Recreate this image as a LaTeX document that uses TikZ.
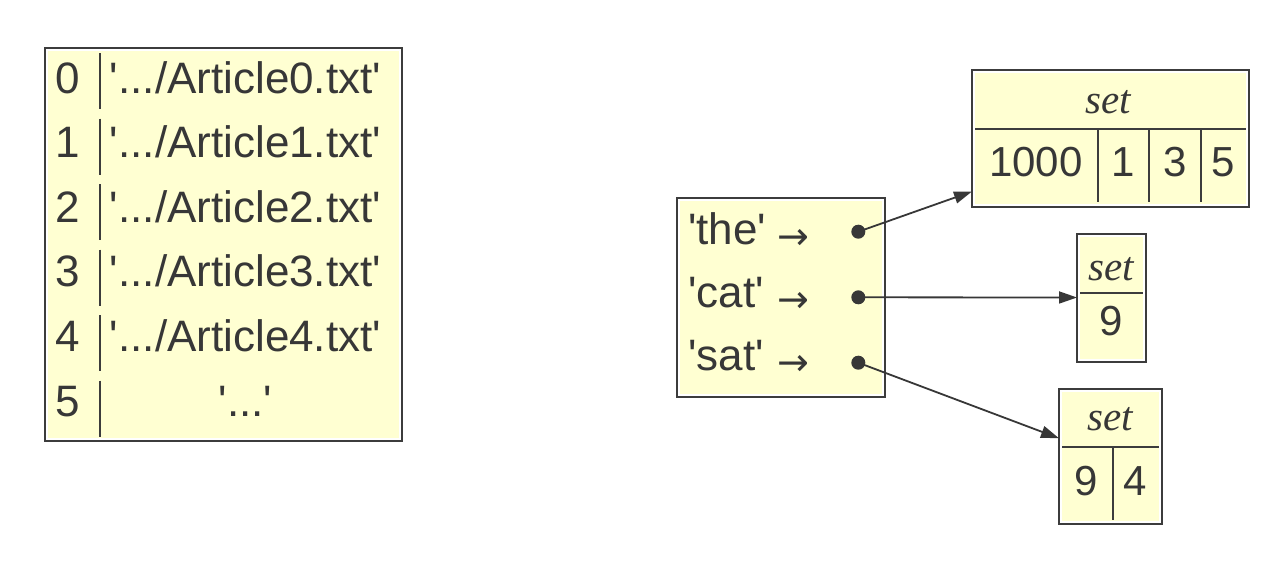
\documentclass[tikz,border=0pt]{standalone}
\usepackage{fontspec}
\setmainfont{Liberation Sans}
\newfontfamily\serifit{Liberation Serif}
\newfontfamily\arrfont{DejaVu Sans}
\usetikzlibrary{arrows.meta}
\definecolor{yel}{RGB}{255,255,210}
\definecolor{ink}{RGB}{55,55,55}
\definecolor{edge}{RGB}{60,60,60}
\newcommand\q{\textquotesingle}
\begin{document}
\begin{tikzpicture}[x=1pt,y=-1pt,
  box/.style={draw=edge, line width=2pt, fill=white, inner sep=0pt, outer sep=0pt, anchor=north west,
    path picture={\fill[yel] ([shift={(3pt,-3pt)}]path picture bounding box.north west) rectangle ([shift={(-3pt,3pt)}]path picture bounding box.south east);}},
  txt/.style={font=\fontsize{44}{44}\selectfont, text=ink, inner sep=0pt, anchor=base},
  num/.style={font=\fontsize{42}{42}\selectfont, text=ink, inner sep=0pt, anchor=base},
  settxt/.style={font=\serifit\itshape\fontsize{41}{41}\selectfont, text=ink, inner sep=0pt, anchor=base},
  arr/.style={font=\arrfont\fontsize{38}{38}\selectfont, text=ink, inner sep=0pt, anchor=base west},
  rule/.style={draw=edge, line width=2pt},
  dot/.style={circle, fill=ink, inner sep=0pt, minimum size=14pt},
  conn/.style={draw=ink, line width=1.8pt, -{Triangle[length=18pt,width=12pt]}},
]
\useasboundingbox (0,0) rectangle (1276,562);

% left table
\node[box, minimum width=357pt, minimum height=393pt] (tbl) at (45,48) {};
\foreach \i in {0,...,4}{
  \pgfmathsetmacro\by{93+64.6*\i}
  \pgfmathsetmacro\ty{48+65.5*\i}
  \node[txt] (n\i) at (68,\by) {\i};
  \node[txt] (a\i) at (245.5,\by) {\q.../Article\i.txt\q};
  \draw[rule] (100.3,\ty+5) -- (100.3,\ty+61);
}
\node[txt] (n5) at (68,416) {5};
\node[txt] (a5) at (245.5,416) {\q...\q};
\draw[rule] (100.3,380.5) -- (100.3,437);

% dictionary box
\node[box, minimum width=208pt, minimum height=199pt] (dict) at (677,197.5) {};
\node[txt, anchor=base west] (k1) at (688,244) {\q the\q};
\node[txt, anchor=base west] (k2) at (688,307.3) {\q cat\q};
\node[txt, anchor=base west] (k3) at (688,370) {\q sat\q};
\node[arr] (r1) at (777,249) {→};
\node[arr] (r2) at (777,312.3) {→};
\node[arr] (r3) at (777,375) {→};
\node[dot] (d1) at (858.3,231.7) {};
\node[dot] (d2) at (858.3,297.3) {};
\node[dot] (d3) at (858.3,362.7) {};

% set 1
\node[box, minimum width=277pt, minimum height=136.5pt] (s1) at (972,70) {};
\draw[rule] (975,129.3) -- (1246,129.3);
\foreach \x in {1097.7,1149.3,1200.7}{\draw[rule] (\x,129.3) -- (\x,201.7);}
\node[settxt] (t1) at (1108,113.3) {set};
\node[num] (v1a) at (1035.8,176.7) {1000};
\node[num] (v1b) at (1123,176.7) {1};
\node[num] (v1c) at (1175,176.7) {3};
\node[num] (v1d) at (1223,176.7) {5};

% set 2
\node[box, minimum width=68.5pt, minimum height=128pt] (s2) at (1077,233.5) {};
\draw[rule] (1080,292.7) -- (1142.5,292.7);
\node[settxt] (t2) at (1111.5,280) {set};
\node[num] (v2a) at (1111.5,335) {9};

% set 3
\node[box, minimum width=103pt, minimum height=135.5pt] (s3) at (1059,388.5) {};
\draw[rule] (1062,446.7) -- (1159,446.7);
\draw[rule] (1113.3,446.7) -- (1113.3,520);
\node[settxt] (t3) at (1110.5,430) {set};
\node[num] (v3a) at (1086,495) {9};
\node[num] (v3b) at (1135,495) {4};

% connectors
\draw[conn] (d1.center) -- ([yshift=15pt]s1.south west);
\draw[conn] (d2.center) -- (s2.west);
\draw[conn] (d3.center) -- ([yshift=18pt]s3.west);
\end{tikzpicture}
\end{document}
